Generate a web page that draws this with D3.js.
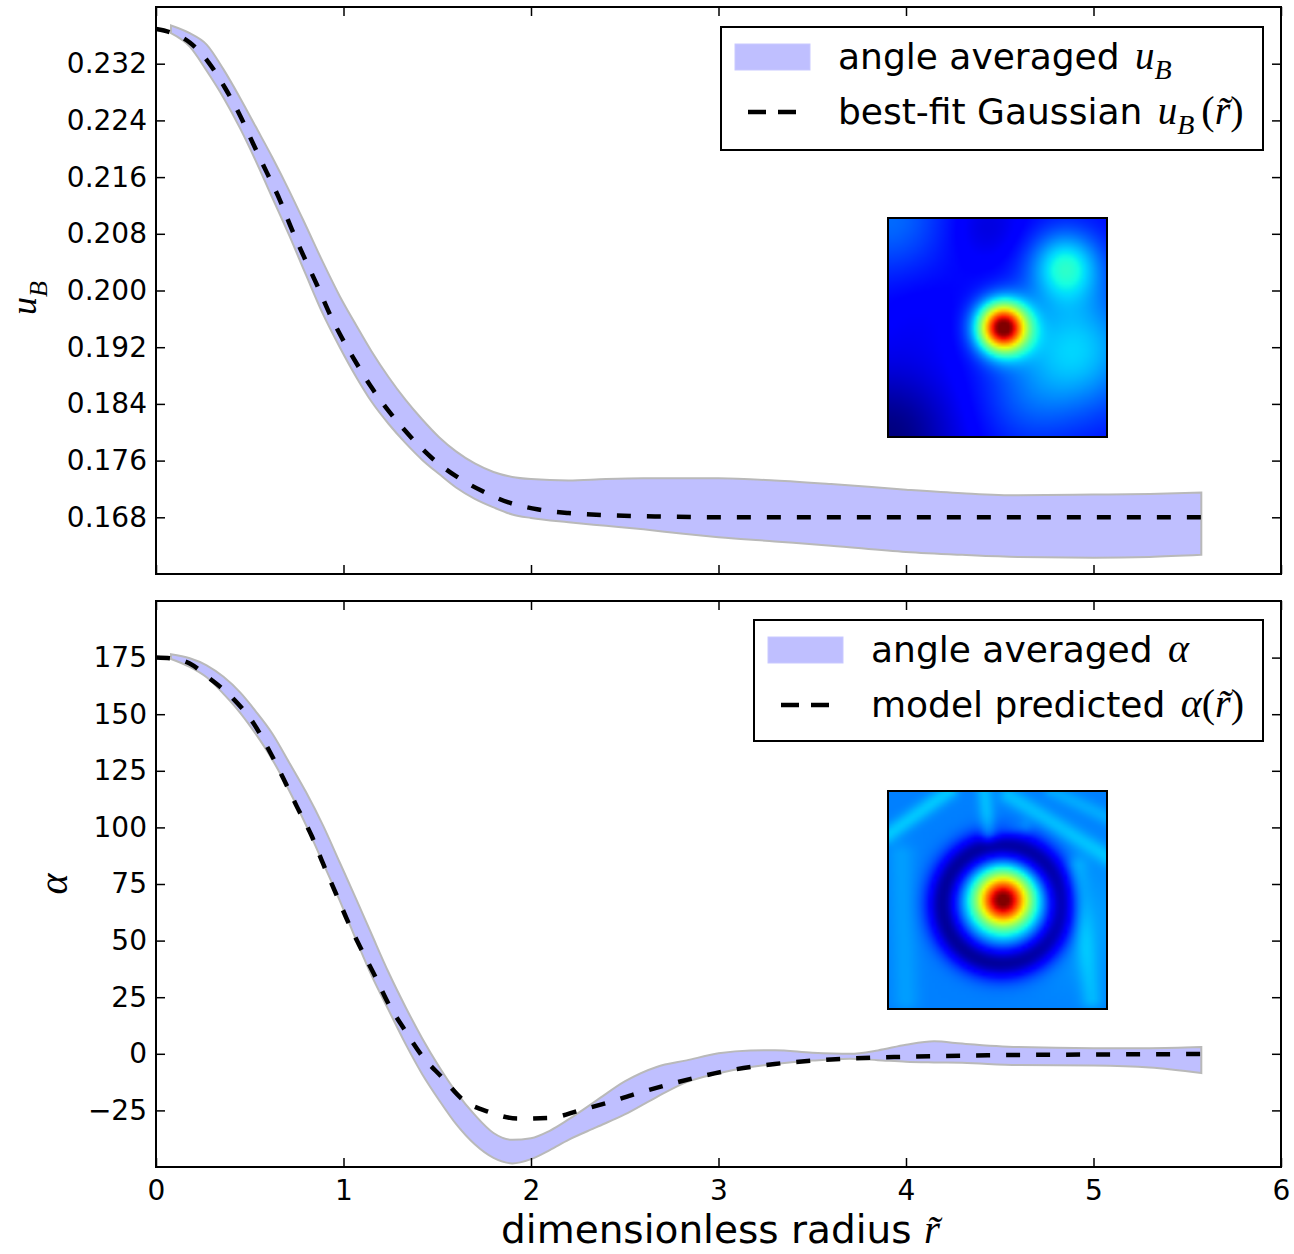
<!DOCTYPE html>
<html>
<head>
<meta charset="utf-8">
<script src="https://cdn.jsdelivr.net/npm/d3@7"></script>
<style>
  body { margin: 0; background: #fff; }
  svg { display: block; }
</style>
</head>
<body>
<svg id="fig" width="1294" height="1254"></svg>
<script>
// ---------------- data ----------------
// radii at which the angle-averaged bands are sampled
const bandR = [0.08, 0.18, 0.27, 0.36, 0.45, 0.53, 0.62, 0.71, 0.80, 0.89, 0.98, 1.07, 1.15, 1.24, 1.33,
               1.42, 1.51, 1.60, 1.70, 1.80, 1.90, 2.00, 2.20, 2.40, 2.60, 2.80, 3.00, 3.30, 3.60, 4.00,
               4.30, 4.60, 5.00, 5.30, 5.575];
// u_B band (lower / upper)
const uBLow  = [0.2363, 0.2344, 0.2310, 0.2272, 0.2228, 0.2184, 0.2131, 0.2078, 0.2022, 0.1967, 0.1920,
                0.1877, 0.1843, 0.1812, 0.1785, 0.1761, 0.1741, 0.1722, 0.1706, 0.1694, 0.1684, 0.1679,
                0.1673, 0.1668, 0.1663, 0.1657, 0.1652, 0.1646, 0.1640, 0.1631, 0.1627, 0.1624, 0.1623,
                0.1624, 0.1627];
const uBHigh = [0.2374, 0.2363, 0.2347, 0.2312, 0.2271, 0.2232, 0.2188, 0.2141, 0.2091, 0.2040, 0.1992,
                0.1950, 0.1914, 0.1878, 0.1846, 0.1818, 0.1793, 0.1773, 0.1756, 0.1744, 0.1737, 0.1734,
                0.1732, 0.1734, 0.1735, 0.1735, 0.1735, 0.1732, 0.1727, 0.1719, 0.1714, 0.1711, 0.1712,
                0.1713, 0.1715];
// best-fit Gaussian u_B(r)
const fitR  = [0, 0.10, 0.18, 0.28, 0.37, 0.45, 0.52, 0.59, 0.66, 0.72, 0.79, 0.86, 0.93, 1.00, 1.07, 1.15,
               1.25, 1.36, 1.47, 1.60, 1.74, 1.88, 2.04, 2.20, 2.40, 2.70, 3.00, 3.50, 4.00, 5.00, 5.575];
const fitUB = [0.2369, 0.2362, 0.2350, 0.2322, 0.2285, 0.2246, 0.2206, 0.2167, 0.2128, 0.2089, 0.2047,
               0.2007, 0.1965, 0.1929, 0.1897, 0.1863, 0.1827, 0.1793, 0.1764, 0.1738, 0.1717, 0.1701,
               0.1691, 0.1686, 0.1683, 0.1681, 0.1680, 0.1680, 0.1680, 0.1680, 0.1680];

// alpha band (lower / upper)
const alphaR    = [0.08, 0.18, 0.27, 0.36, 0.45, 0.53, 0.62, 0.71, 0.80, 0.89, 0.98, 1.07, 1.15, 1.24, 1.33,
                   1.42, 1.51, 1.60, 1.70, 1.80, 1.90, 2.00, 2.10, 2.20, 2.35, 2.50, 2.67, 2.83, 3.00, 3.17,
                   3.30, 3.50, 3.70, 3.85, 4.00, 4.15, 4.30, 4.60, 5.00, 5.30, 5.575];
const alphaLow  = [174.4, 170.9, 166.3, 159.0, 150.5, 141.5, 130.0, 116.3, 101.0, 84.5, 67.7, 49.8, 34.5,
                   19.4, 4.5, -9.0, -20.5, -31.0, -40.0, -46.0, -48.4, -46.5, -42.5, -38.0, -32.4, -26.8,
                   -19.1, -12.5, -8.6, -5.8, -4.5, -3.0, -2.2, -2.8, -3.5, -3.8, -4.0, -5.0, -5.2, -6.0, -8.5];
const alphaHigh = [176.5, 174.7, 171.6, 166.5, 159.5, 151.5, 141.5, 128.7, 115.6, 101.0, 84.5, 67.9, 52.8,
                   36.0, 20.8, 6.8, -5.7, -16.8, -27.0, -35.0, -38.0, -37.3, -34.0, -29.0, -20.6, -12.2,
                   -5.8, -2.9, 0.2, 1.5, 1.6, 0.5, 0.0, 1.5, 4.0, 5.5, 4.5, 3.0, 2.5, 2.5, 3.0];
// model predicted alpha(r)
const modelR     = [0, 0.10, 0.18, 0.28, 0.41, 0.52, 0.60, 0.68, 0.75, 0.83, 0.89, 0.96, 1.03, 1.10, 1.17,
                    1.24, 1.33, 1.42, 1.53, 1.63, 1.78, 1.93, 2.10, 2.26, 2.42, 2.56, 2.72, 2.88, 3.06, 3.30,
                    3.60, 4.00, 4.50, 5.00, 5.575];
const modelAlpha = [175.0, 174.5, 172.4, 166.2, 157.0, 146.0, 134.5, 121.5, 109.4, 96.3, 84.2, 70.7, 57.2,
                    45.3, 34.0, 22.1, 10.1, -1.0, -10.8, -19.8, -25.8, -28.6, -28.3, -25.0, -21.3, -17.6,
                    -13.9, -10.5, -7.3, -4.5, -2.5, -1.3, -0.6, -0.3, -0.1];

// tick values
const xTicks      = [0, 1, 2, 3, 4, 5, 6];
const uBTicks     = [0.168, 0.176, 0.184, 0.192, 0.200, 0.208, 0.216, 0.224, 0.232];
const alphaTicks  = [-25, 0, 25, 50, 75, 100, 125, 150, 175];

// inset field components: [x, y, sigma, amplitude] in unit-square coordinates
const uBFieldBase = 0.13;
const uBFieldBlobs = [
  [0.525, 0.50, 0.078, 0.87],
  [0.81, 0.22, 0.11, 0.24],
  [0.85, 0.60, 0.20, 0.20],
  [0.62, 0.85, 0.15, 0.05],
  [0.00, 0.00, 0.18, 0.10],
  [0.45, 0.04, 0.12, -0.05],
  [0.00, 1.00, 0.22, -0.13],
  [0.15, 0.45, 0.15, -0.02]
];
const alphaFieldBase = 0.25;
const alphaFieldBlobs = [
  [0.525, 0.50, 0.085, 0.77],
  [0.90, 0.60, 0.20, 0.03]
];
// dark ring around the core: [cx, cy, radius, width, amplitude]
const alphaFieldRings = [
  [0.52, 0.52, 0.27, 0.055, -0.23]
];
// faint ridges: [x1, y1, x2, y2, width, amplitude]
const alphaFieldRidges = [
  [0.00, 0.20, 0.28, 0.00, 0.028, 0.07],
  [0.44, 0.00, 0.46, 0.20, 0.026, 0.06],
  [0.46, 0.20, 0.62, 0.17, 0.026, 0.04],
  [0.55, 0.02, 1.00, 0.30, 0.030, 0.06],
  [0.75, 0.00, 1.00, 0.12, 0.026, 0.04],
  [0.86, 0.35, 0.93, 0.95, 0.035, 0.05],
  [0.06, 0.30, 0.08, 0.95, 0.045, 0.03]
];

// ---------------- layout ----------------
const SANS = "'DejaVu Sans', sans-serif";
const SERIF = "'Liberation Serif', 'DejaVu Serif', serif";
const L = 156, R = 1281;
const top1 = 7, bot1 = 574, top2 = 601, bot2 = 1167;

const svg = d3.select('#fig');
const x = d3.scaleLinear([0, 6], [L, R]);
const yU = d3.scaleLinear([0.160, 0.240], [bot1, top1]);
const yA = d3.scaleLinear([-50, 200], [bot2, top2]);

const defs = svg.append('defs');
defs.append('clipPath').attr('id', 'clipTop').append('rect')
  .attr('x', L).attr('y', top1).attr('width', R - L).attr('height', bot1 - top1);
defs.append('clipPath').attr('id', 'clipBot').append('rect')
  .attr('x', L).attr('y', top2).attr('width', R - L).attr('height', bot2 - top2);

const BAND_FILL = '#bfbfff', BAND_EDGE = '#b9b9b9';
const DASH = '14,16';

function drawPanel(clipId, yScale, rArr, lo, hi, lr, lv) {
  const g = svg.append('g').attr('clip-path', `url(#${clipId})`);
  const area = d3.area()
    .x((d, i) => x(rArr[i]))
    .y0((d, i) => yScale(lo[i]))
    .y1((d, i) => yScale(hi[i]))
    .curve(d3.curveMonotoneX);
  g.append('path').datum(rArr).attr('d', area)
    .attr('fill', BAND_FILL).attr('stroke', BAND_EDGE).attr('stroke-width', 2);
  const line = d3.line()
    .x((d, i) => x(lr[i]))
    .y((d, i) => yScale(lv[i]))
    .curve(d3.curveMonotoneX);
  g.append('path').datum(lr).attr('d', line)
    .attr('fill', 'none').attr('stroke', '#000').attr('stroke-width', 4.5)
    .attr('stroke-dasharray', DASH);
}

drawPanel('clipTop', yU, bandR, uBLow, uBHigh, fitR, fitUB);
drawPanel('clipBot', yA, alphaR, alphaLow, alphaHigh, modelR, modelAlpha);

// ---------------- insets (jet colormap) ----------------
const jetR = d3.scaleLinear([0, 0.35, 0.66, 0.89, 1], [0, 0, 1, 1, 0.5]).clamp(true);
const jetG = d3.scaleLinear([0, 0.125, 0.375, 0.64, 0.91, 1], [0, 0, 1, 1, 0, 0]).clamp(true);
const jetB = d3.scaleLinear([0, 0.11, 0.34, 0.65, 1], [0.5, 1, 1, 0, 0]).clamp(true);

function segDist(px, py, s) {
  const [x1, y1, x2, y2] = s;
  const dx = x2 - x1, dy = y2 - y1;
  let t = ((px - x1) * dx + (py - y1) * dy) / (dx * dx + dy * dy);
  t = Math.max(0, Math.min(1, t));
  const qx = x1 + t * dx - px, qy = y1 + t * dy - py;
  return Math.sqrt(qx * qx + qy * qy);
}

function fieldImage(base, blobs, rings, ridges) {
  const N = 72;
  const cv = document.createElement('canvas');
  cv.width = N; cv.height = N;
  const ctx = cv.getContext('2d');
  const img = ctx.createImageData(N, N);
  for (let j = 0; j < N; j++) {
    for (let i = 0; i < N; i++) {
      const px = (i + 0.5) / N, py = (j + 0.5) / N;
      let v = base;
      blobs.forEach(([bx, by, s, a]) => {
        const d2 = (px - bx) ** 2 + (py - by) ** 2;
        v += a * Math.exp(-d2 / (2 * s * s));
      });
      rings.forEach(([cx, cy, rr, w, a]) => {
        const d = Math.sqrt((px - cx) ** 2 + (py - cy) ** 2) - rr;
        v += a * Math.exp(-d * d / (2 * w * w));
      });
      ridges.forEach(s => {
        const d = segDist(px, py, s);
        v += s[5] * Math.exp(-d * d / (2 * s[4] * s[4]));
      });
      const k = (j * N + i) * 4;
      img.data[k] = Math.round(255 * jetR(v));
      img.data[k + 1] = Math.round(255 * jetG(v));
      img.data[k + 2] = Math.round(255 * jetB(v));
      img.data[k + 3] = 255;
    }
  }
  ctx.putImageData(img, 0, 0);
  return cv.toDataURL();
}

function inset(x0, y0, w, h, url) {
  svg.append('image').attr('x', x0).attr('y', y0).attr('width', w).attr('height', h)
    .attr('preserveAspectRatio', 'none').attr('href', url);
  svg.append('rect').attr('x', x0).attr('y', y0).attr('width', w).attr('height', h)
    .attr('fill', 'none').attr('stroke', '#000').attr('stroke-width', 2);
}
inset(888, 218, 219, 219, fieldImage(uBFieldBase, uBFieldBlobs, [], []));
inset(888, 791, 219, 218, fieldImage(alphaFieldBase, alphaFieldBlobs, alphaFieldRings, alphaFieldRidges));

// ---------------- axes ----------------
function styleAxis(g) {
  g.select('.domain').remove();
  g.selectAll('.tick line').attr('stroke', '#000').attr('stroke-width', 1.5);
  g.selectAll('.tick text').attr('font-family', SANS).attr('font-size', 28).attr('fill', '#000');
}
// top panel
svg.append('g').attr('transform', `translate(${L},0)`)
  .call(d3.axisLeft(yU).tickValues(uBTicks).tickSize(-9).tickPadding(9).tickFormat(d3.format('.3f')))
  .call(styleAxis);
svg.append('g').attr('transform', `translate(${R},0)`)
  .call(d3.axisRight(yU).tickValues(uBTicks).tickSize(-9).tickFormat(''))
  .call(styleAxis);
svg.append('g').attr('transform', `translate(0,${bot1})`)
  .call(d3.axisBottom(x).tickValues(xTicks).tickSize(-9).tickFormat(''))
  .call(styleAxis);
svg.append('g').attr('transform', `translate(0,${top1})`)
  .call(d3.axisTop(x).tickValues(xTicks).tickSize(-9).tickFormat(''))
  .call(styleAxis);
// bottom panel
svg.append('g').attr('transform', `translate(${L},0)`)
  .call(d3.axisLeft(yA).tickValues(alphaTicks).tickSize(-9).tickPadding(9).tickFormat(d3.format('d')))
  .call(styleAxis);
svg.append('g').attr('transform', `translate(${R},0)`)
  .call(d3.axisRight(yA).tickValues(alphaTicks).tickSize(-9).tickFormat(''))
  .call(styleAxis);
svg.append('g').attr('transform', `translate(0,${bot2})`)
  .call(d3.axisBottom(x).tickValues(xTicks).tickSize(-9).tickPadding(13).tickFormat(d3.format('d')))
  .call(styleAxis);
svg.append('g').attr('transform', `translate(0,${top2})`)
  .call(d3.axisTop(x).tickValues(xTicks).tickSize(-9).tickFormat(''))
  .call(styleAxis);

// frames
[[top1, bot1], [top2, bot2]].forEach(([t, b]) => {
  svg.append('rect').attr('x', L).attr('y', t).attr('width', R - L).attr('height', b - t)
    .attr('fill', 'none').attr('stroke', '#000').attr('stroke-width', 2);
});

// ---------------- text helpers ----------------
function rich(sel, parts) {
  const t = sel.append('text').attr('fill', '#000');
  parts.forEach(p => {
    const s = t.append('tspan').text(p.t)
      .attr('font-family', p.m ? SERIF : SANS)
      .attr('font-size', p.s)
      .attr('font-style', p.i ? 'italic' : 'normal');
    if (p.dy) s.attr('dy', p.dy);
    if (p.dx) s.attr('dx', p.dx);
  });
  return t;
}

// axis labels
rich(svg, [
  { t: 'dimensionless radius ', s: 39 },
  { t: 'r\u0303', s: 41, m: true, i: true }
]).attr('x', (L + R) / 2 + 2).attr('y', 1243).attr('text-anchor', 'middle');

rich(svg.append('g').attr('transform', 'translate(36,298) rotate(-90)'), [
  { t: 'u', s: 36, m: true, i: true },
  { t: 'B', s: 26, m: true, i: true, dy: 11 }
]).attr('text-anchor', 'middle');

rich(svg.append('g').attr('transform', 'translate(67,884) rotate(-90)'), [
  { t: '\u03b1', s: 40, m: true, i: true }
]).attr('text-anchor', 'middle');

// ---------------- legends ----------------
function legend(x0, y0, w, h, row1, row2) {
  const g = svg.append('g');
  g.append('rect').attr('x', x0).attr('y', y0).attr('width', w).attr('height', h)
    .attr('fill', '#fff').attr('stroke', '#000').attr('stroke-width', 2);
  g.append('rect').attr('x', x0 + 14).attr('y', y0 + 17).attr('width', 75).attr('height', 26)
    .attr('fill', BAND_FILL).attr('stroke', '#c9c9ff').attr('stroke-width', 1);
  g.append('line').attr('x1', x0 + 27).attr('x2', x0 + 75)
    .attr('y1', y0 + 85).attr('y2', y0 + 85)
    .attr('stroke', '#000').attr('stroke-width', 4.5).attr('stroke-dasharray', '18,12');
  rich(g, row1).attr('x', x0 + 117).attr('y', y0 + 42);
  rich(g, row2).attr('x', x0 + 117).attr('y', y0 + 97);
}
legend(721, 27, 542, 123,
  [{ t: 'angle averaged ', s: 36 }, { t: 'u', s: 39, m: true, i: true, dx: 4 }, { t: 'B', s: 28, m: true, i: true, dy: 10 }],
  [{ t: 'best-fit Gaussian ', s: 36 }, { t: 'u', s: 39, m: true, i: true, dx: 4 }, { t: 'B', s: 28, m: true, i: true, dy: 10 },
   { t: '(', s: 40, m: true, dy: -10, dx: 7 }, { t: 'r\u0303', s: 40, m: true, i: true }, { t: ')', s: 40, m: true }]);
legend(754, 620, 509, 121,
  [{ t: 'angle averaged ', s: 36 }, { t: '\u03b1', s: 40, m: true, i: true, dx: 4 }],
  [{ t: 'model predicted ', s: 36 }, { t: '\u03b1', s: 40, m: true, i: true, dx: 4 },
   { t: '(', s: 40, m: true }, { t: 'r\u0303', s: 40, m: true, i: true }, { t: ')', s: 40, m: true }]);
</script>
</body>
</html>
